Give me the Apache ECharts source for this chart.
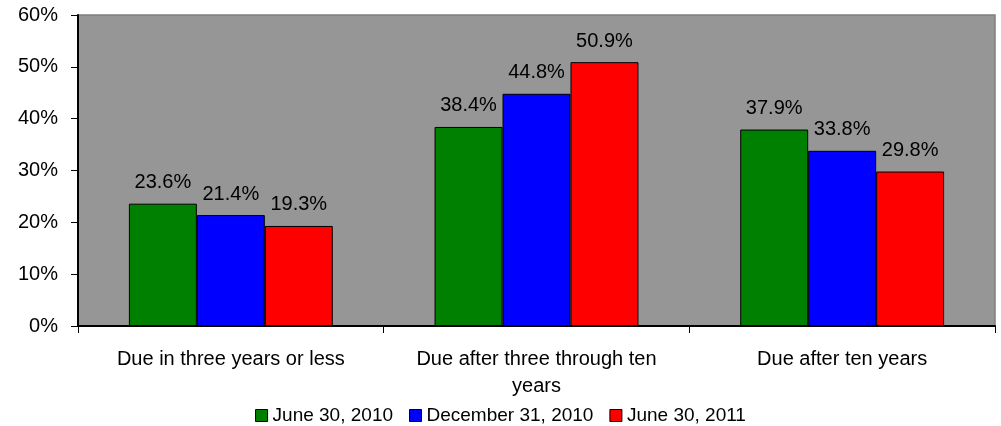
<!DOCTYPE html>
<html>
<head>
<meta charset="utf-8">
<script src="https://cdn.jsdelivr.net/npm/echarts@6/dist/echarts.min.js"></script>
<style>
  html, body { margin: 0; padding: 0; background: #fff; }
  #main { width: 1001px; height: 426px; }
</style>
</head>
<body>
<div id="main"></div>
<script>
// data
var categories = ['Due in three years or less', 'Due after three through ten\nyears', 'Due after ten years'];
var seriesNames = ['June 30, 2010', 'December 31, 2010', 'June 30, 2011'];
var june2010 = [23.6, 38.4, 37.9];
var dec2010 = [21.4, 44.8, 33.8];
var june2011 = [19.3, 50.9, 29.8];
var colors = ['#008000', '#0000ff', '#ff0000'];

var font = 'Liberation Sans, Arial, sans-serif';
var myChart = echarts.init(document.getElementById('main'));

function makeSeries(name, data, color) {
    return {
        name: name,
        type: 'bar',
        data: data,
        barGap: '0%',
        barCategoryGap: '33.3%',
        itemStyle: { color: color, borderColor: '#000', borderWidth: 1 },
        label: {
            show: true,
            position: 'top',
            distance: 11,
            color: '#000',
            fontFamily: font,
            fontSize: 20,
            formatter: function (p) { return p.value.toFixed(1) + '%'; }
        }
    };
}

var option = {
    animation: false,
    textStyle: { fontFamily: font },
    grid: {
        left: 78, right: 6, top: 15, bottom: 100,
        show: true,
        backgroundColor: '#969696',
        borderColor: '#7f7f7f',
        borderWidth: 1.5
    },
    legend: {
        top: 406,
        left: 'center',
        padding: 0,
        itemWidth: 12,
        itemHeight: 12,
        itemGap: 16,
        icon: 'rect',
        itemStyle: { borderColor: '#000', borderWidth: 1 },
        textStyle: { color: '#000', fontSize: 19, fontFamily: font },
        data: seriesNames
    },
    xAxis: {
        type: 'category',
        data: categories,
        axisLine: { lineStyle: { color: '#000', width: 2 } },
        axisTick: { show: true, length: 7, lineStyle: { color: '#000', width: 1 } },
        axisLabel: { color: '#000', fontSize: 20, fontFamily: font, margin: 20, lineHeight: 27, interval: 0 }
    },
    yAxis: {
        type: 'value',
        min: 0,
        max: 60,
        interval: 10,
        axisLine: { show: true, lineStyle: { color: '#000', width: 2 } },
        axisTick: { show: true, length: 7, lineStyle: { color: '#000', width: 1 } },
        splitLine: { show: false },
        axisLabel: { color: '#000', fontSize: 20, fontFamily: font, margin: 20, formatter: '{value}%' }
    },
    series: [
        makeSeries(seriesNames[0], june2010, colors[0]),
        makeSeries(seriesNames[1], dec2010, colors[1]),
        makeSeries(seriesNames[2], june2011, colors[2])
    ]
};
myChart.setOption(option);
</script>
</body>
</html>
